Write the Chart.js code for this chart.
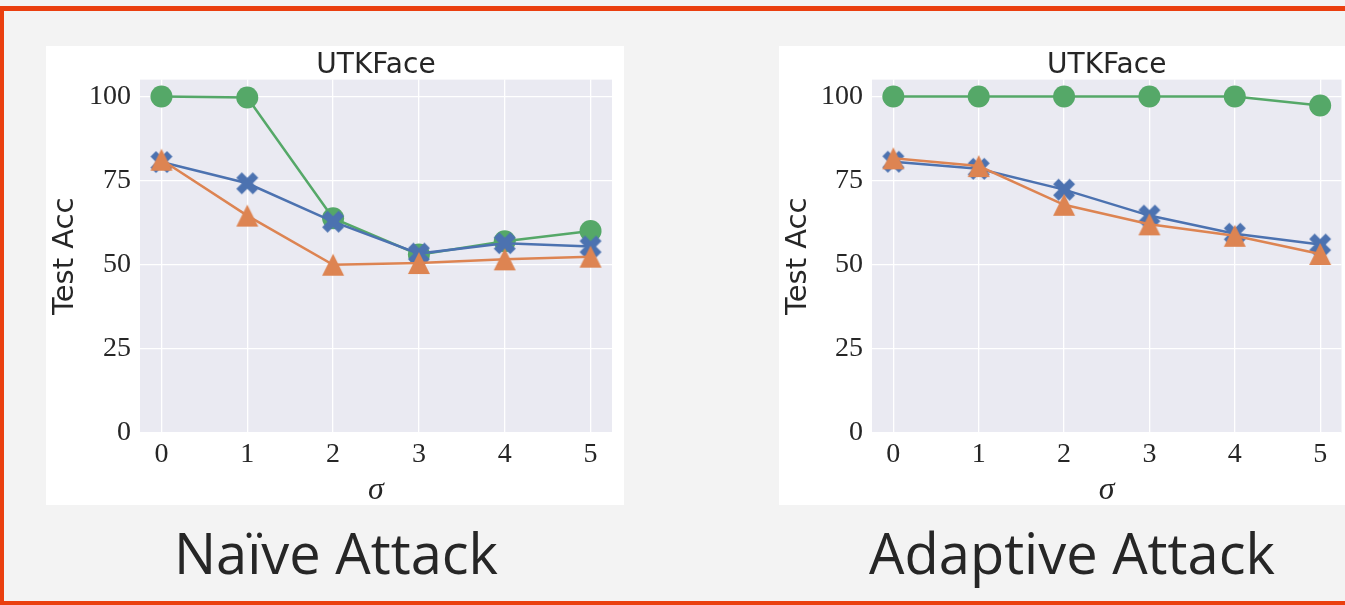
<!DOCTYPE html>
<html>
<head>
<meta charset="utf-8">
<script src="https://cdn.jsdelivr.net/npm/chart.js@4/dist/chart.umd.min.js"></script>
<style>
  html, body { margin: 0; padding: 0; background: #f3f3f3; width: 1345px; height: 605px; overflow: hidden; }
  #frame { position: absolute; left: 0; top: 6px; width: 1420px; height: 599px; box-sizing: border-box;
           border: 4px solid #ea3f0f; border-top-width: 5px; }
  .panel { position: absolute; top: 46px; height: 459px; background: #ffffff; overflow: hidden; }
  .panel canvas { display: block; }
  .caption { position: absolute; top: 524px; width: 600px; text-align: center; font-family: "Open Sans", sans-serif;
             font-size: 56px; line-height: 56px; color: #262626; white-space: nowrap; }
</style>
</head>
<body>
<div id="frame"></div>
<div class="panel" style="left:46px;width:578px"><canvas id="naive" width="578" height="459"></canvas></div>
<div class="panel" style="left:779px;width:566px"><canvas id="adaptive" width="580" height="459"></canvas></div>
<div class="caption" style="left:36px">Naïve Attack</div>
<div class="caption" style="left:772px">Adaptive Attack</div>

<script>
// Noise level on the x axis and the accuracy ticks on the y axis
const sigma = [0, 1, 2, 3, 4, 5];
const accTicks = [0, 25, 50, 75, 100];

// Naïve attack: test accuracy per sigma
const naiveCircle   = [100, 99.7, 63.8, 53.0, 57.0, 60.0];
const naiveCross    = [80.5, 74.2, 62.8, 53.3, 56.4, 55.4];
const naiveTriangle = [81.2, 64.6, 50.0, 50.5, 51.6, 52.4];

// Adaptive attack: test accuracy per sigma
const adaptiveCircle   = [100, 100, 100, 100, 100, 97.3];
const adaptiveCross    = [80.6, 78.5, 72.3, 64.6, 59.2, 56.0];
const adaptiveTriangle = [81.6, 79.3, 67.8, 62.0, 58.6, 53.2];

const GREEN = '#55a868', BLUE = '#4c72b0', ORANGE = '#dd8452';
const INK = '#262626';

// Filled marker sprites
function sprite(drawFn) {
  const c = document.createElement('canvas');
  c.width = c.height = 26;
  const g = c.getContext('2d');
  drawFn(g, 13);
  return c;
}
function crossMarker(color) {
  return sprite((g, c) => {
    const s = 5.5;
    const v = [[-1,-2],[0,-1],[1,-2],[2,-1],[1,0],[2,1],[1,2],[0,1],[-1,2],[-2,1],[-1,0],[-2,-1]];
    g.beginPath();
    v.forEach(([a, b], i) => { const px = c + a * s, py = c + b * s; i ? g.lineTo(px, py) : g.moveTo(px, py); });
    g.closePath();
    g.fillStyle = color;
    g.fill();
  });
}
function triangleMarker(color) {
  return sprite((g, c) => {
    const r = 11;
    g.beginPath();
    g.moveTo(c, c - r);
    g.lineTo(c - r, c + r);
    g.lineTo(c + r, c + r);
    g.closePath();
    g.fillStyle = color;
    g.fill();
  });
}

// Seaborn-style grey plotting area
const plotBackground = {
  id: 'plotBackground',
  beforeDraw(chart) {
    const { ctx, chartArea: a } = chart;
    ctx.save();
    ctx.fillStyle = '#eaeaf2';
    ctx.fillRect(a.left, a.top, a.right - a.left, a.bottom - a.top);
    ctx.restore();
  }
};

function series(values, color, marker, order) {
  return {
    data: sigma.map((x, i) => ({ x, y: values[i] })),
    borderColor: color,
    backgroundColor: color,
    borderWidth: 2.5,
    pointStyle: marker,
    pointRadius: 11,
    pointBackgroundColor: color,
    pointBorderColor: color,
    pointBorderWidth: 0,
    tension: 0,
    clip: false,
    order
  };
}

function makeChart(id, circle, cross, triangle, yWidth, padRight) {
  return new Chart(document.getElementById(id), {
    type: 'line',
    data: {
      datasets: [
        series(triangle, ORANGE, triangleMarker(ORANGE), 0),
        series(cross, BLUE, crossMarker(BLUE), 1),
        series(circle, GREEN, 'circle', 2)
      ]
    },
    options: {
      responsive: false,
      animation: false,
      devicePixelRatio: 1,
      layout: { padding: { top: 0, right: padRight, bottom: 0, left: 0 } },
      plugins: {
        legend: { display: false },
        tooltip: { enabled: false },
        title: {
          display: true, text: 'UTKFace', fullSize: false, color: INK,
          font: { family: 'DejaVu Sans', size: 28, weight: 'normal', lineHeight: 1.2 },
          padding: { top: 3, bottom: -3 }
        }
      },
      scales: {
        x: {
          type: 'linear', min: -0.25, max: 5.25,
          afterBuildTicks: s => { s.ticks = sigma.map(v => ({ value: v })); },
          afterFit: s => { s.height = 72; s.paddingLeft = 0; s.paddingRight = 0; },
          grid: { color: '#ffffff', lineWidth: 1.3, drawTicks: false },
          border: { display: false },
          ticks: { font: { family: 'Liberation Serif', size: 28 }, color: INK, padding: 5 },
          title: {
            display: true, text: 'σ', color: INK,
            font: { family: 'Liberation Serif', style: 'italic', size: 32, lineHeight: 1.2 },
            padding: { top: 0, bottom: -5 }
          }
        },
        y: {
          type: 'linear', min: 0, max: 105,
          afterBuildTicks: s => { s.ticks = accTicks.map(v => ({ value: v })); },
          afterFit: s => { s.width = yWidth; },
          grid: { color: '#ffffff', lineWidth: 1.3, drawTicks: false },
          border: { display: false },
          ticks: { font: { family: 'Liberation Serif', size: 28 }, color: INK, padding: 9 },
          title: {
            display: true, text: 'Test Acc', color: INK,
            font: { family: 'DejaVu Sans', size: 29, lineHeight: 1.2 },
            padding: { top: 2, bottom: 0 }
          }
        }
      }
    },
    plugins: [plotBackground]
  });
}

makeChart('naive', naiveCircle, naiveCross, naiveTriangle, 94, 12);
makeChart('adaptive', adaptiveCircle, adaptiveCross, adaptiveTriangle, 93, 17.5);
</script>
</body>
</html>
